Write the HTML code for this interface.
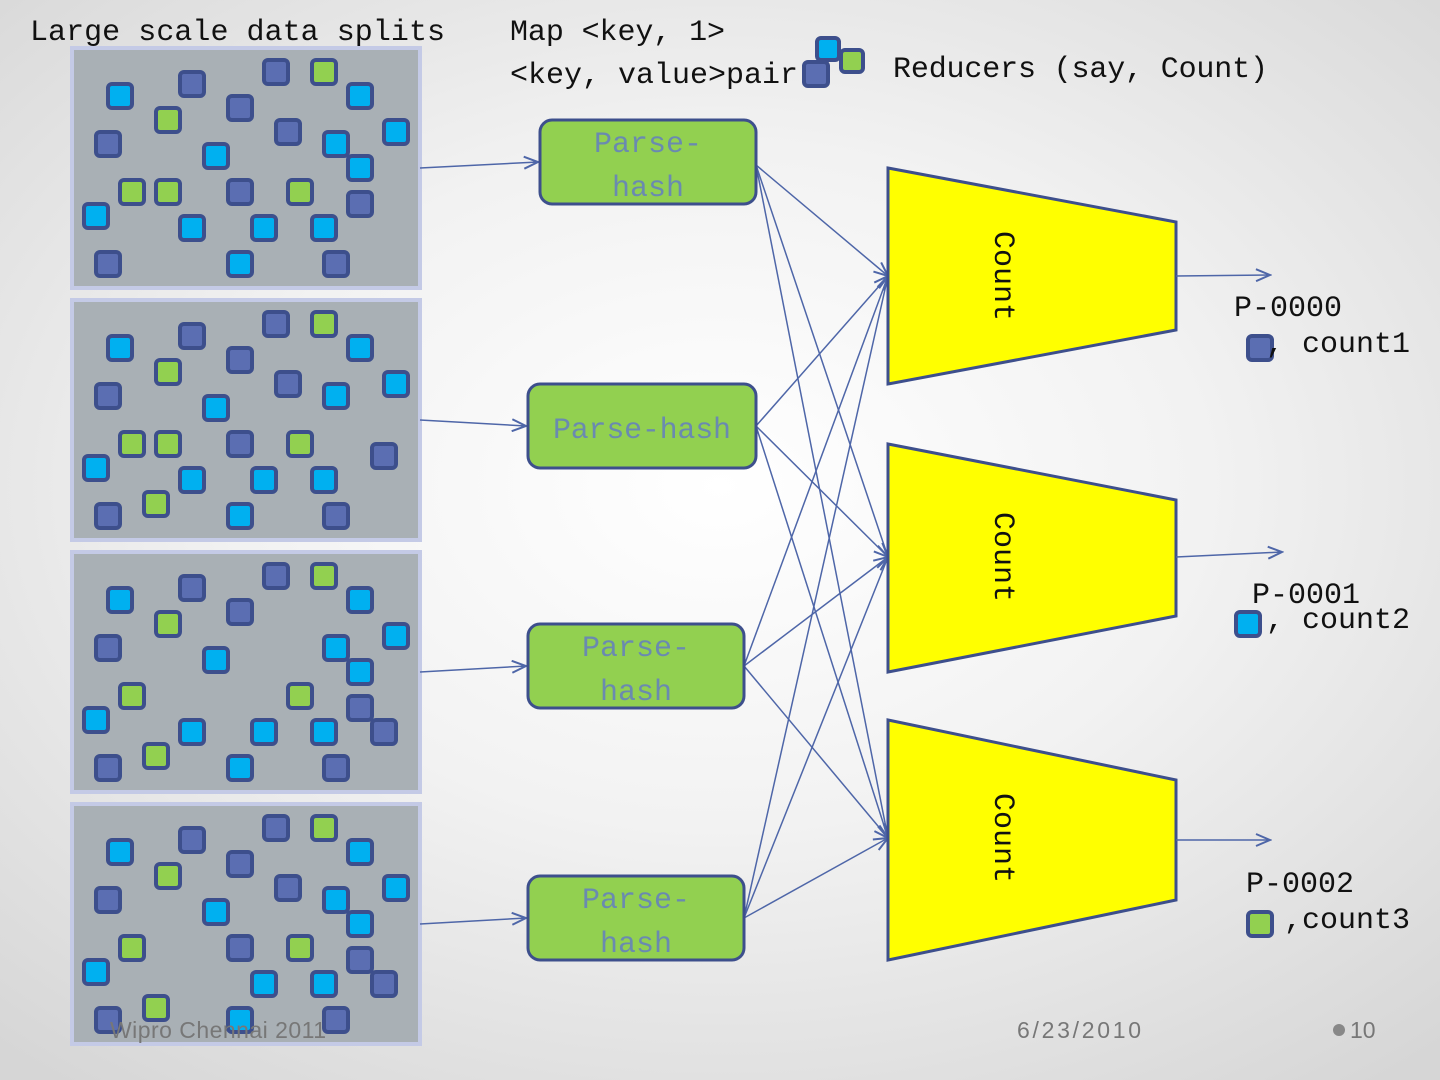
<!DOCTYPE html>
<html><head><meta charset="utf-8"><style>
html,body{margin:0;padding:0;}
body{width:1440px;height:1080px;overflow:hidden;background:radial-gradient(ellipse 75% 70% at 50% 45%,#ffffff 0%,#f2f2f2 45%,#d6d6d6 100%);}
svg{position:absolute;left:0;top:0;}
.d{fill:#5b6eb2;stroke:#3d4f8c;stroke-width:4}
.c{fill:#00b0f0;stroke:#3d4f8c;stroke-width:4}
.g{fill:#92d050;stroke:#3d4f8c;stroke-width:4}
.t{font-family:"Liberation Mono","Noto Serif CJK SC",monospace;font-size:30px;fill:#111;}
.pt{font-family:"Liberation Mono","Noto Serif CJK SC",monospace;font-size:30px;fill:#6a8ab0;}
.ln{stroke:#4e66a8;stroke-width:1.5;fill:none;marker-end:url(#ah);}
.f{font-family:"Liberation Sans",sans-serif;font-size:23px;fill:#777;}
</style></head><body>
<svg width="1440" height="1080" viewBox="0 0 1440 1080">
<defs>
<marker id="ah" markerWidth="18" markerHeight="14" refX="16" refY="7" orient="auto" markerUnits="userSpaceOnUse">
<path d="M2,1 L16,7 L2,13" fill="none" stroke="#4e66a8" stroke-width="2"/>
</marker>
</defs>
<text class="t" x="30" y="40" textLength="415">Large scale data splits</text>
<text class="t" x="510" y="40" textLength="215">Map &lt;key, 1&gt;</text>
<text class="t" x="510" y="83" textLength="288">&lt;key, value&gt;pair</text>
<rect class="c" x="817" y="38" width="22" height="22" rx="4"/>
<rect class="g" x="841" y="50" width="22" height="22" rx="4"/>
<rect class="d" x="804" y="62" width="24" height="24" rx="4"/>
<text class="t" x="893" y="77" textLength="375">Reducers (say, Count)</text>

<g fill="#a9b0b5" stroke="#c4cae6" stroke-width="4">
<rect x="72" y="48" width="348" height="240"/>
<rect x="72" y="300" width="348" height="240"/>
<rect x="72" y="552" width="348" height="240"/>
<rect x="72" y="804" width="348" height="240"/>
</g>
<g>
<rect class="c" x="108" y="84" width="24" height="24" rx="4"/>
<rect class="d" x="180" y="72" width="24" height="24" rx="4"/>
<rect class="d" x="264" y="60" width="24" height="24" rx="4"/>
<rect class="g" x="312" y="60" width="24" height="24" rx="4"/>
<rect class="c" x="348" y="84" width="24" height="24" rx="4"/>
<rect class="d" x="228" y="96" width="24" height="24" rx="4"/>
<rect class="g" x="156" y="108" width="24" height="24" rx="4"/>
<rect class="d" x="276" y="120" width="24" height="24" rx="4"/>
<rect class="c" x="324" y="132" width="24" height="24" rx="4"/>
<rect class="c" x="384" y="120" width="24" height="24" rx="4"/>
<rect class="d" x="96" y="132" width="24" height="24" rx="4"/>
<rect class="c" x="204" y="144" width="24" height="24" rx="4"/>
<rect class="c" x="348" y="156" width="24" height="24" rx="4"/>
<rect class="g" x="120" y="180" width="24" height="24" rx="4"/>
<rect class="g" x="156" y="180" width="24" height="24" rx="4"/>
<rect class="d" x="228" y="180" width="24" height="24" rx="4"/>
<rect class="g" x="288" y="180" width="24" height="24" rx="4"/>
<rect class="d" x="348" y="192" width="24" height="24" rx="4"/>
<rect class="c" x="84" y="204" width="24" height="24" rx="4"/>
<rect class="c" x="180" y="216" width="24" height="24" rx="4"/>
<rect class="c" x="252" y="216" width="24" height="24" rx="4"/>
<rect class="c" x="312" y="216" width="24" height="24" rx="4"/>
<rect class="d" x="96" y="252" width="24" height="24" rx="4"/>
<rect class="c" x="228" y="252" width="24" height="24" rx="4"/>
<rect class="d" x="324" y="252" width="24" height="24" rx="4"/>
<rect class="c" x="108" y="336" width="24" height="24" rx="4"/>
<rect class="d" x="180" y="324" width="24" height="24" rx="4"/>
<rect class="d" x="264" y="312" width="24" height="24" rx="4"/>
<rect class="g" x="312" y="312" width="24" height="24" rx="4"/>
<rect class="c" x="348" y="336" width="24" height="24" rx="4"/>
<rect class="d" x="228" y="348" width="24" height="24" rx="4"/>
<rect class="g" x="156" y="360" width="24" height="24" rx="4"/>
<rect class="d" x="276" y="372" width="24" height="24" rx="4"/>
<rect class="c" x="324" y="384" width="24" height="24" rx="4"/>
<rect class="c" x="384" y="372" width="24" height="24" rx="4"/>
<rect class="d" x="96" y="384" width="24" height="24" rx="4"/>
<rect class="c" x="204" y="396" width="24" height="24" rx="4"/>
<rect class="g" x="120" y="432" width="24" height="24" rx="4"/>
<rect class="g" x="156" y="432" width="24" height="24" rx="4"/>
<rect class="d" x="228" y="432" width="24" height="24" rx="4"/>
<rect class="g" x="288" y="432" width="24" height="24" rx="4"/>
<rect class="d" x="372" y="444" width="24" height="24" rx="4"/>
<rect class="c" x="84" y="456" width="24" height="24" rx="4"/>
<rect class="c" x="180" y="468" width="24" height="24" rx="4"/>
<rect class="c" x="252" y="468" width="24" height="24" rx="4"/>
<rect class="c" x="312" y="468" width="24" height="24" rx="4"/>
<rect class="g" x="144" y="492" width="24" height="24" rx="4"/>
<rect class="d" x="96" y="504" width="24" height="24" rx="4"/>
<rect class="c" x="228" y="504" width="24" height="24" rx="4"/>
<rect class="d" x="324" y="504" width="24" height="24" rx="4"/>
<rect class="c" x="108" y="588" width="24" height="24" rx="4"/>
<rect class="d" x="180" y="576" width="24" height="24" rx="4"/>
<rect class="d" x="264" y="564" width="24" height="24" rx="4"/>
<rect class="g" x="312" y="564" width="24" height="24" rx="4"/>
<rect class="c" x="348" y="588" width="24" height="24" rx="4"/>
<rect class="d" x="228" y="600" width="24" height="24" rx="4"/>
<rect class="g" x="156" y="612" width="24" height="24" rx="4"/>
<rect class="c" x="384" y="624" width="24" height="24" rx="4"/>
<rect class="d" x="96" y="636" width="24" height="24" rx="4"/>
<rect class="c" x="204" y="648" width="24" height="24" rx="4"/>
<rect class="c" x="324" y="636" width="24" height="24" rx="4"/>
<rect class="c" x="348" y="660" width="24" height="24" rx="4"/>
<rect class="g" x="120" y="684" width="24" height="24" rx="4"/>
<rect class="g" x="288" y="684" width="24" height="24" rx="4"/>
<rect class="d" x="348" y="696" width="24" height="24" rx="4"/>
<rect class="c" x="84" y="708" width="24" height="24" rx="4"/>
<rect class="c" x="180" y="720" width="24" height="24" rx="4"/>
<rect class="c" x="252" y="720" width="24" height="24" rx="4"/>
<rect class="c" x="312" y="720" width="24" height="24" rx="4"/>
<rect class="d" x="372" y="720" width="24" height="24" rx="4"/>
<rect class="g" x="144" y="744" width="24" height="24" rx="4"/>
<rect class="d" x="96" y="756" width="24" height="24" rx="4"/>
<rect class="c" x="228" y="756" width="24" height="24" rx="4"/>
<rect class="d" x="324" y="756" width="24" height="24" rx="4"/>
<rect class="c" x="108" y="840" width="24" height="24" rx="4"/>
<rect class="d" x="180" y="828" width="24" height="24" rx="4"/>
<rect class="d" x="264" y="816" width="24" height="24" rx="4"/>
<rect class="g" x="312" y="816" width="24" height="24" rx="4"/>
<rect class="c" x="348" y="840" width="24" height="24" rx="4"/>
<rect class="d" x="228" y="852" width="24" height="24" rx="4"/>
<rect class="g" x="156" y="864" width="24" height="24" rx="4"/>
<rect class="d" x="276" y="876" width="24" height="24" rx="4"/>
<rect class="c" x="384" y="876" width="24" height="24" rx="4"/>
<rect class="d" x="96" y="888" width="24" height="24" rx="4"/>
<rect class="c" x="204" y="900" width="24" height="24" rx="4"/>
<rect class="c" x="324" y="888" width="24" height="24" rx="4"/>
<rect class="c" x="348" y="912" width="24" height="24" rx="4"/>
<rect class="g" x="120" y="936" width="24" height="24" rx="4"/>
<rect class="d" x="228" y="936" width="24" height="24" rx="4"/>
<rect class="g" x="288" y="936" width="24" height="24" rx="4"/>
<rect class="d" x="348" y="948" width="24" height="24" rx="4"/>
<rect class="c" x="84" y="960" width="24" height="24" rx="4"/>
<rect class="c" x="252" y="972" width="24" height="24" rx="4"/>
<rect class="c" x="312" y="972" width="24" height="24" rx="4"/>
<rect class="d" x="372" y="972" width="24" height="24" rx="4"/>
<rect class="g" x="144" y="996" width="24" height="24" rx="4"/>
<rect class="d" x="96" y="1008" width="24" height="24" rx="4"/>
<rect class="c" x="228" y="1008" width="24" height="24" rx="4"/>
<rect class="d" x="324" y="1008" width="24" height="24" rx="4"/>
</g>

<line class="ln" x1="420" y1="168" x2="538" y2="162"/>
<line class="ln" x1="420" y1="420" x2="526" y2="426"/>
<line class="ln" x1="420" y1="672" x2="526" y2="666"/>
<line class="ln" x1="420" y1="924" x2="526" y2="918"/>

<g>
<line class="ln" x1="756" y1="165" x2="888" y2="276"/>
<line class="ln" x1="756" y1="165" x2="888" y2="557"/>
<line class="ln" x1="756" y1="165" x2="888" y2="838"/>
<line class="ln" x1="756" y1="426" x2="888" y2="276"/>
<line class="ln" x1="756" y1="426" x2="888" y2="557"/>
<line class="ln" x1="756" y1="426" x2="888" y2="838"/>
<line class="ln" x1="744" y1="666" x2="888" y2="276"/>
<line class="ln" x1="744" y1="666" x2="888" y2="557"/>
<line class="ln" x1="744" y1="666" x2="888" y2="838"/>
<line class="ln" x1="744" y1="918" x2="888" y2="276"/>
<line class="ln" x1="744" y1="918" x2="888" y2="557"/>
<line class="ln" x1="744" y1="918" x2="888" y2="838"/>
</g>

<g fill="#92d050" stroke="#3d4f8c" stroke-width="3">
<rect x="540" y="120" width="216" height="84" rx="12"/>
<rect x="528" y="384" width="228" height="84" rx="12"/>
<rect x="528" y="624" width="216" height="84" rx="12"/>
<rect x="528" y="876" width="216" height="84" rx="12"/>
</g>
<text class="pt" x="648" y="152" text-anchor="middle">Parse-</text>
<text class="pt" x="648" y="196" text-anchor="middle">hash</text>
<text class="pt" x="642" y="438" text-anchor="middle" textLength="178">Parse-hash</text>
<text class="pt" x="636" y="656" text-anchor="middle">Parse-</text>
<text class="pt" x="636" y="700" text-anchor="middle">hash</text>
<text class="pt" x="636" y="908" text-anchor="middle">Parse-</text>
<text class="pt" x="636" y="952" text-anchor="middle">hash</text>

<g fill="#ffff00" stroke="#3d4f8c" stroke-width="3">
<polygon points="888,168 1176,222 1176,330 888,384"/>
<polygon points="888,444 1176,500 1176,616 888,672"/>
<polygon points="888,720 1176,780 1176,900 888,960"/>
</g>
<text class="t" transform="translate(995,276) rotate(90)" text-anchor="middle">Count</text>
<text class="t" transform="translate(995,557) rotate(90)" text-anchor="middle">Count</text>
<text class="t" transform="translate(995,838) rotate(90)" text-anchor="middle">Count</text>

<line class="ln" x1="1176" y1="276" x2="1270" y2="275"/>
<line class="ln" x1="1176" y1="557" x2="1282" y2="552"/>
<line class="ln" x1="1176" y1="840" x2="1270" y2="840"/>

<text class="t" x="1234" y="316">P-0000</text>
<rect class="d" x="1248" y="336" width="24" height="24" rx="4"/>
<text class="t" x="1266" y="352">, count1</text>
<text class="t" x="1252" y="603">P-0001</text>
<rect class="c" x="1236" y="612" width="24" height="24" rx="4"/>
<text class="t" x="1266" y="628">, count2</text>
<text class="t" x="1246" y="892">P-0002</text>
<rect class="g" x="1248" y="912" width="24" height="24" rx="4"/>
<text class="t" x="1284" y="928">,count3</text>

<text class="f" x="110" y="1038" textLength="216">Wipro Chennai 2011</text>
<text class="f" x="1017" y="1038" textLength="124">6/23/2010</text>
<circle cx="1339" cy="1030" r="6" fill="#888"/>
<text class="f" x="1350" y="1038">10</text>
</svg>
</body></html>
